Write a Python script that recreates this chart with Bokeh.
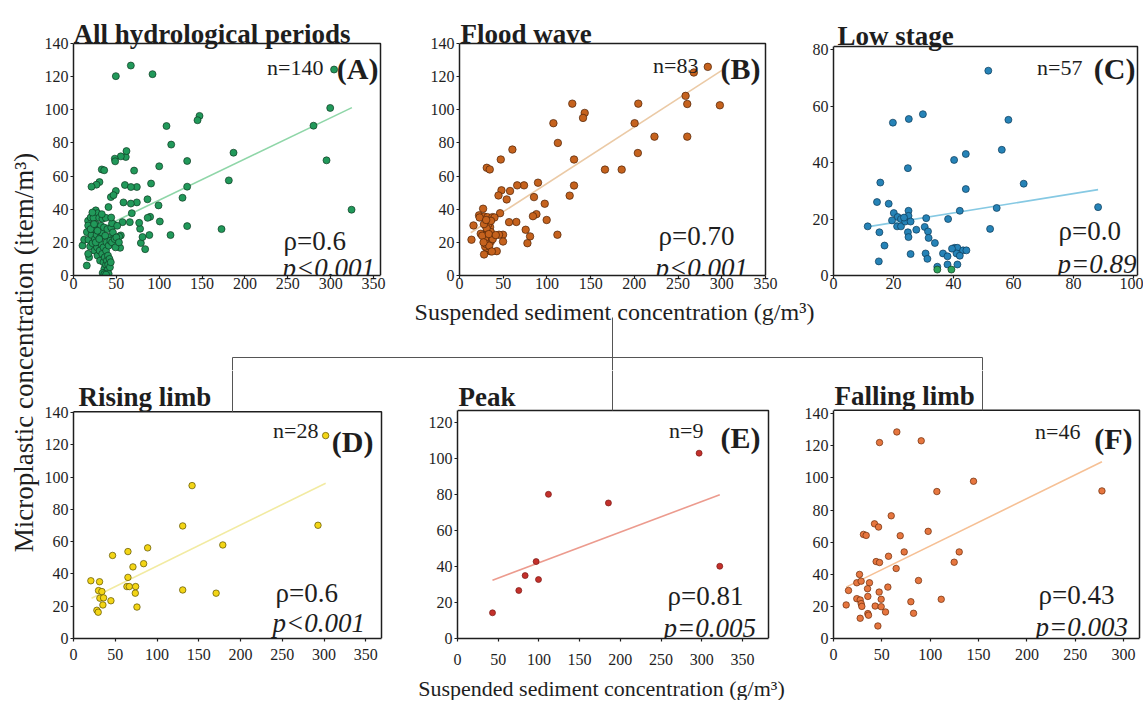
import math
from bokeh.plotting import figure
from bokeh.models import Range1d, FixedTicker
from bokeh.layouts import row, column
from bokeh.embed import file_html
from bokeh.resources import INLINE
from bokeh.core.properties import value

FONT = "Liberation Serif"

# ---------------- data ----------------
# x = suspended sediment concentration (g/m3), y = microplastic concentration (item/m3)
A_pts = [(49.4,120.3),(66.9,126.7),(92.2,121.5),(304,124.3),(299.5,101.1),(280,90.4),(295.2,69.5),
         (324.4,39.7),(186.7,74.1),(181.2,57.4),(172.7,28),(147,96.3),(144.7,93.7),(108.5,90.2),
         (114,79),(100,65.9),(132.6,69.1),(132.6,53.6),(127.2,46.9),(132.6,29.8),(113.2,24.4),
         (99.2,42.3),(100.7,32.6),(90.5,55.5),(89.4,35.4),(86.5,34.8),(88.5,24.4),(86.3,46),
         (83.6,15.9),(78.6,19.6),(80.5,23.2),(77.7,28.2),(76.6,31.8),(73.9,44.1),(73.9,53.4),
         (70.7,63.3),(61,71.5),(55.2,71.9),(48.2,70.5),(48.6,68.9),(61.8,75.1),(33,64),(35.8,63.5),
         (30.3,56.4),(26.8,54.8),(21,53.6),(60,54.6),(67,53.4),(49.4,51),(43.6,47.3),(46.7,48.5),
         (58.3,44.1),(66.9,43.4),(40.8,41.3),(68,37.6),(57.2,32.2),(65.7,32.2),(55.2,24.2),(54.4,16.7),
         (26,39.3),(28,37.6),(17,33),(20,35),(23.3,34.8),(30,34.8),(33.8,34.2),(37.7,34.8),(47.4,30.6),
         (41.5,23.2),(47.4,22.8),(53.2,23.6),(18.2,11),(15.5,6),
         (10.5,18.1),(12.4,21.6),(15.6,26.2),(17.1,30.2),(17.1,13.1),(17.5,21.6),(19.4,17.5),(22.2,19.5),
         (21,24.5),(23,28),(24.5,15),(25,22),(26,31),(27,24.5),(27.5,17),(28,12),(29,20),(29.5,27),
         (30.5,15),(31,9),(31.5,23),(32,30),(32.5,19),(33,26),(33.5,13),(35,8),(35,17),(35.5,29),(36,4),
         (36.5,11),(37,24),(37.5,2),(38,6.5),(38,15),(38.5,20),(39,1),(39,9),(39.5,28),(40,3.5),(40.2,12),
         (40.5,6.5),(41,1),(41,18),(42,10),(42.5,5),(43,21),(43.5,8),(44,29),(45,31.5),(45,20),(46,26),
         (48,22),(49,17),(50,23),(34,1.5),(36,0.8),(38,0.5),
         (20,28),(22,38),(24,31),(26,20),(28,27),(30,22),(33,37),(44,35),(51,30),(53,20)]
A_fit_x = [10, 324.8]
A_fit_y = [23.1, 101.3]

B_pts = [(284,125.9),(268,122.5),(297.8,102.7),(258.6,108.4),(260.5,103.5),(260.5,83.8),(223,83.8),
         (204.5,103.7),(200.3,91.9),(204,73.9),(185.5,63.9),(166.4,63.9),(129,103.7),(143.2,98.1),
         (141.3,95.1),(107.4,91.9),(112.5,80),(131,70),(131,54.3),(126,48.2),(112,24.6),(99.7,33.5),
         (97.5,43.3),(89.8,56),(88,37),(84,35.8),(85.2,47.3),(73.8,54.4),(66,54.4),(65,32.3),(75.7,27.6),
         (80.7,23.6),(77.7,19.5),(60.5,76),(47.2,70),(31.2,65),(34.6,64),(48,51.4),(44.6,48.3),(57.8,51),
         (54,45.9),(46.4,37.6),(56.7,32.2),(49.8,24.6),(45.2,24.6),(49.8,20.5),(42.6,14.7),(35,14.7),
         (31.2,16.5),(29.3,17.5),(28.1,12.7),(16,30.2),(13.7,21.6),(22.4,36.3),(27,40.3),(28.1,35.6),
         (32,35.2),(37.7,35.2),(30,30.2),(35,29.2),(32,27.2),(35.8,26.2),(24.3,25.2),(29.3,24.2),
         (32.7,23.6),(35.8,23.6),(35.8,20.5),(29.3,22.2),(30.5,19),(33,31),(26,24),(34,18),(38,22),
         (31,28.5),(27.5,20),(33.5,25),(40,35),(28,31),(23,35),(36,33),(37,14.5),(41.5,24.4),(30.5,33.5)]
B_fit_x = [12.9, 300.5]
B_fit_y = [25.8, 123.9]

C_pts = [(11.4,17.4),(15.3,15.3),(15.6,32.9),(14.5,26),(18.4,25.4),(17,10.6),(15.1,5),(19.8,54.1),
         (25.1,55.4),(29.8,57.1),(24.8,38),(20.1,22.1),(21.4,20.7),(22.5,20),(21.2,17.4),(22.5,17.4),
         (23.9,19.1),(25,22.9),(25,21.1),(25.7,19.1),(24.8,15.3),(25,13.6),(27.6,16.2),(25.7,7.6),
         (30.9,20.3),(30.4,17.2),(31.5,15.6),(31.7,13.3),(30.7,7.8),(31.3,5.9),(33.8,11.5),(38.2,20),
         (34.6,3.1),(36.5,7.8),(38,6.8),(38,3.9),(41.3,3.9),(40.4,9.8),(41.3,9.8),(43.2,8.9),(44.3,8.9),
         (41,7.8),(42.1,7),(40.2,40.9),(44.1,43),(44.1,30.6),(42.1,22.9),(51.6,72.5),(58.3,55.1),
         (56.1,44.5),(63.4,32.5),(88.2,24.2),(54.4,23.9),(52.2,16.5),(23.5,20.5),(19.5,19.5),(39.5,9.5)]
C_green_pts = [(34.6,2.1),(39.3,2.1)]
C_fit_x = [11.2, 88.2]
C_fit_y = [17.2, 30.4]

D_pts = [(302,125.8),(142,94.8),(130.8,69.8),(292.8,70.2),(178.8,58),(88.8,56.2),(46.8,51.5),
         (65.2,53.9),(84,46.4),(71.2,44.4),(65.2,37.9),(64,32.2),(66.8,32.2),(74.4,32.2),(74,28.1),
         (130.8,30.1),(170.8,28.1),(76,19.5),(20.8,35.8),(31.2,35.2),(30,29.7),(34,29.1),(31.6,25),
         (36,25.2),(44.8,23.4),(35.2,20.8),(28,17.5),(29.6,16.3)]
D_fit_x = [21.6, 302]
D_fit_y = [25, 96.3]

E_pts = [(296.8,103.1),(322.2,40.2),(111.7,80.2),(185.4,75.4),(96.6,42.8),(83.1,35),(99.5,32.8),
         (75.3,26.7),(43,14.3)]
E_fit_x = [43, 322.2]
E_fit_y = [32.4, 80]

F_pts = [(65.5,128.6),(47.6,122),(90.7,123.1),(144.8,97.9),(106.9,91.5),(277.6,91.9),(59.7,76.4),
         (42.4,71.4),(46.6,69.4),(97.9,66.7),(69,64),(31,64.8),(33.8,64.2),(73.1,53.9),(56.9,51.2),
         (44.1,47.9),(47.6,47.3),(124.8,47.5),(130,53.9),(64.8,43.6),(87.9,36.1),(26.9,39.9),(24.1,34.7),
         (28.6,35.7),(37.2,34.7),(15.5,29.9),(35.2,31),(47.2,28.9),(56.2,32),(13.1,20.9),(24.1,24.8),
         (27.6,24),(28.6,21.7),(29.3,20),(35.5,26.2),(43.1,20.2),(49.3,24.4),(49.3,19.8),(53.8,16.5),
         (35.5,15.5),(36.2,14.5),(27.6,12.6),(45.9,7.8),(80,22.9),(82.8,15.7),(111.4,24.4)]
F_fit_x = [13.1, 277.6]
F_fit_y = [32, 110]

titles = ["All hydrological periods", "Flood wave", "Low stage", "Rising limb", "Peak", "Falling limb"]
letters = ["(A)", "(B)", "(C)", "(D)", "(E)", "(F)"]
n_labels = ["n=140", "n=83", "n=57", "n=28", "n=9", "n=46"]
rho_labels = ["\u03c1=0.6", "\u03c1=0.70", "\u03c1=0.0", "\u03c1=0.6", "\u03c1=0.81", "\u03c1=0.43"]
p_labels = ["p<0.001", "p<0.001", "p=0.89", "p<0.001", "p=0.005", "p=0.003"]
x_ticks_350 = [0, 50, 100, 150, 200, 250, 300, 350]
x_ticks_300 = [0, 50, 100, 150, 200, 250, 300]
x_ticks_100 = [0, 20, 40, 60, 80, 100]
y_ticks_140 = [0, 20, 40, 60, 80, 100, 120, 140]
y_ticks_120 = [0, 20, 40, 60, 80, 100, 120]
y_ticks_80 = [0, 20, 40, 60, 80]
x_label = "Suspended sediment concentration (g/m\u00b3)"
y_label = "Microplastic concentration (item/m\u00b3)"

INK = "#1e1e1e"
BRACKET = "#555555"


def split(pts):
    return [p[0] for p in pts], [p[1] for p in pts]


def make_panel(fig_l, fig_r, fig_t, fig_b, box, kx, ky, xticks, yticks, xstand):
    bl, br, bt, bb = box
    frame_r = min(br + 3, fig_r)
    x_vis = (br - bl) / kx
    y_vis = (bb - bt) / ky
    p = figure(width=fig_r - fig_l, height=fig_b - fig_t,
               x_range=Range1d(0, (frame_r - bl) / kx), y_range=Range1d(0, (bb - fig_t) / ky),
               min_border_left=bl - fig_l, min_border_right=fig_r - frame_r,
               min_border_top=0, min_border_bottom=fig_b - bb,
               toolbar_location=None, output_backend="svg", outline_line_color=None)
    p.grid.visible = False
    for ax, ticks, bound, stand in ((p.xaxis[0], xticks, x_vis, xstand), (p.yaxis[0], yticks, y_vis, 2)):
        ax.ticker = FixedTicker(ticks=ticks)
        ax.bounds = (0, bound)
        ax.major_tick_in = 0
        ax.major_tick_out = 3
        ax.minor_tick_in = 0
        ax.minor_tick_out = 0
        ax.major_label_standoff = stand
        ax.major_label_text_font = FONT
        ax.major_label_text_font_size = "16px"
        ax.major_label_text_color = INK
        ax.axis_line_color = INK
        ax.axis_line_width = 1.5
        ax.major_tick_line_color = INK
        ax.major_tick_line_width = 1.2
    # top and right edges of the plot box
    p.line(x=[0, x_vis, x_vis], y=[y_vis, y_vis, 0], line_color=INK, line_width=1.5)

    def X(px):
        return (px - bl) / kx

    def Y(py):
        return (bb - py) / ky
    return p, X, Y


def put_text(p, x, y, txt, size, style="normal", align="left"):
    p.text(x=[x], y=[y], text=[txt], text_font=value(FONT), text_font_size=value(size),
           text_font_style=value(style), text_align=align, text_baseline="alphabetic",
           text_color=INK)


LEFT = 40          # width of the strip that holds the shared y title
RIGHT = 1143
TOP_T, TOP_B = 0, 295
BOT_T, BOT_B = 370, 675
PAGE_B = 700

specs = [
    dict(fig=(LEFT, 420, TOP_T, TOP_B), box=(73, 380, 43, 275), kx=300/350, ky=232/140,
         xt=x_ticks_350, yt=y_ticks_140, xs=-1, pts=A_pts, fx=A_fit_x, fy=A_fit_y,
         fill="#21995a", edge="#0e3b22", fit="#8fd6a8", size=7,
         title=(73, 33), n=(323, 67), let=(378, 68), rho=(283, 240), p=(282, 267)),
    dict(fig=(420, 797, TOP_T, TOP_B), box=(459, 765, 43, 275), kx=306/350, ky=232/140,
         xt=x_ticks_350, yt=y_ticks_140, xs=-1, pts=B_pts, fx=B_fit_x, fy=B_fit_y,
         fill="#c5621d", edge="#4d2307", fit="#ebcaa6", size=7.5,
         title=(460, 33), n=(698, 65), let=(760, 68), rho=(658, 235), p=(655, 267)),
    dict(fig=(797, RIGHT, TOP_T, TOP_B), box=(833, 1137, 46, 275), kx=3.0, ky=226/80,
         xt=x_ticks_100, yt=y_ticks_80, xs=-1, pts=C_pts, fx=C_fit_x, fy=C_fit_y,
         fill="#2683b7", edge="#0c3a57", fit="#86c9e3", size=7,
         title=(837, 35), n=(1082, 67), let=(1135, 68), rho=(1058, 230), p=(1057, 263)),
    dict(fig=(LEFT, 420, BOT_T, BOT_B), box=(73, 381, 412, 643), kx=0.835, ky=230/140,
         xt=x_ticks_350, yt=y_ticks_140, xs=7, pts=D_pts, fx=D_fit_x, fy=D_fit_y,
         fill="#f3d516", edge="#5c5000", fit="#f2eba2", size=6.5,
         title=(78, 397), n=(318, 431), let=(373, 442), rho=(275, 597), p=(272, 627)),
    dict(fig=(420, 800, BOT_T, BOT_B), box=(457, 768, 410, 638), kx=0.814, ky=215.7/120,
         xt=x_ticks_350, yt=y_ticks_120, xs=12, pts=E_pts, fx=E_fit_x, fy=E_fit_y,
         fill="#c3302b", edge="#7a1a16", fit="#ec9b8e", size=6,
         title=(458, 396), n=(703, 430), let=(760, 437), rho=(667, 595), p=(663, 627)),
    dict(fig=(800, RIGHT, BOT_T, BOT_B), box=(833, 1139, 410, 639), kx=0.967, ky=225.7/140,
         xt=x_ticks_300, yt=y_ticks_140, xs=7, pts=F_pts, fx=F_fit_x, fy=F_fit_y,
         fill="#e6763f", edge="#6b2c0c", fit="#f6c095", size=6.5,
         title=(834, 396), n=(1080, 431), let=(1132, 438), rho=(1038, 595), p=(1035, 627)),
]

# bracket joints (page px) continuing into each lower panel
bracket_x = {3: 232, 4: 612, 5: 982}

panels = []
for i, s in enumerate(specs):
    fl, fr, ft, fb = s["fig"]
    p, X, Y = make_panel(fl, fr, ft, fb, s["box"], s["kx"], s["ky"], s["xt"], s["yt"], s["xs"])
    p.line(x=s["fx"], y=s["fy"], line_color=s["fit"], line_width=1.6)
    xs, ys = split(s["pts"])
    p.scatter(x=xs, y=ys, size=s["size"], marker="circle", fill_color=s["fill"],
              line_color=s["edge"], line_width=0.7)
    if i == 2:
        gx, gy = split(C_green_pts)
        p.scatter(x=gx, y=gy, size=s["size"], marker="circle", fill_color="#2da35a",
                  line_color="#0e3b22", line_width=0.7)
    put_text(p, X(s["title"][0]), Y(s["title"][1]), titles[i], "27px", "bold")
    put_text(p, X(s["n"][0]), Y(s["n"][1]), n_labels[i], "22px", "normal", "right")
    put_text(p, X(s["let"][0]), Y(s["let"][1]), letters[i], "30px", "bold", "right")
    put_text(p, X(s["rho"][0]), Y(s["rho"][1]), rho_labels[i], "27px")
    put_text(p, X(s["p"][0]), Y(s["p"][1]), p_labels[i], "27px", "italic")
    if i in bracket_x:
        bx = X(bracket_x[i])
        p.segment(x0=[bx], y0=[Y(BOT_T)], x1=[bx], y1=[Y(s["box"][2])], line_color=BRACKET, line_width=1)
    panels.append(p)


def canvas(w, h, x0, x1, y_bottom, y_top):
    c = figure(width=w, height=h, x_range=Range1d(x0, x1), y_range=Range1d(y_bottom, y_top),
               x_axis_type=None, y_axis_type=None, min_border=0, outline_line_color=None,
               toolbar_location=None, output_backend="svg")
    c.grid.visible = False
    return c


# left strip: shared y title
ylab = canvas(LEFT, PAGE_B, 0, LEFT, -PAGE_B, 0)
ylab.text(x=[23], y=[-352], text=[y_label], angle=math.pi / 2, text_font=value(FONT),
          text_font_size=value("27px"), text_align="center", text_baseline="middle", text_color=INK)

# middle strip: shared x title and connecting bracket
mid = canvas(RIGHT - LEFT, BOT_T - TOP_B, LEFT, RIGHT, BOT_T, TOP_B)
mid.text(x=[614], y=[311], text=[x_label], text_font=value(FONT), text_font_size=value("24px"),
         text_align="center", text_baseline="alphabetic", text_color=INK)
mid.segment(x0=[232, 232, 612, 982], y0=[357, 357, 317, 357], x1=[982, 232, 612, 982],
            y1=[357, BOT_T, BOT_T, BOT_T], line_color=BRACKET, line_width=1)

# bottom strip: x title of the lower row
bot = canvas(RIGHT - LEFT, PAGE_B - BOT_B, LEFT, RIGHT, PAGE_B, BOT_B)
bot.text(x=[601], y=[688], text=[x_label], text_font=value(FONT), text_font_size=value("22px"),
         text_align="center", text_baseline="middle", text_color=INK)

layout = row(ylab, column(row(*panels[:3]), mid, row(*panels[3:]), bot))

open("out.html", "w").write(file_html(layout, INLINE))
